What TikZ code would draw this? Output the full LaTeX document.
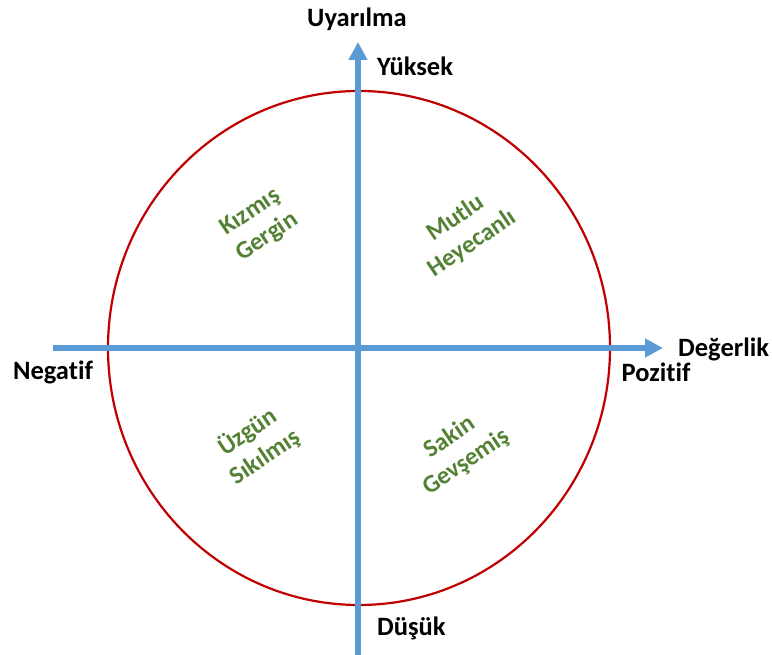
\documentclass[tikz,border=0pt]{standalone}
\usepackage{fontspec}
\setmainfont[Ligatures=NoCommon]{Carlito}
\usetikzlibrary{arrows.meta,positioning}
\definecolor{axiscolor}{HTML}{5B9BD5}
\definecolor{ringcolor}{HTML}{C00000}
\definecolor{moodcolor}{HTML}{548235}

\begin{document}
\begin{tikzpicture}[x=1pt, y=1pt,
    every node/.style={font=\fontsize{26.5}{30}\selectfont\bfseries, inner sep=0pt},
    axis/.style={line width=6pt, color=axiscolor, -{Triangle[length=18pt,width=18pt]}},
    mood/.style={color=moodcolor, align=center, rotate=34,
                 font=\fontsize{25}{30}\selectfont\bfseries}]
    \useasboundingbox (0,0) rectangle (772,655);

    % Axis ends
    \coordinate (ybot) at (358,0);
    \coordinate (ytop) at (358,613);
    \coordinate (xleft) at (53,307);
    \coordinate (xright) at (663,307);
    \coordinate (origin) at (359,307);

    % Ring
    \draw[ringcolor, line width=2.2pt] (origin) ellipse [x radius=251, y radius=257];

    % Axes
    \draw[axis] (ybot) -- (ytop);
    \draw[axis] (xleft) -- (xright);

    % Axis labels
    \node[anchor=base] (arousal) at (357,628) {Uyarılma};
    \node[anchor=base west] (high) at (377,579) {Yüksek};
    \node[anchor=base west] (low) at (377,19) {Düşük};
    \node[anchor=base] (neg) at (53,275) {Negatif};
    \node[anchor=base] (pos) at (656,273) {Pozitif};
    \node[anchor=base west] (valence) at (678,298) {Değerlik};

    % Quadrant moods
    \foreach \name/\pos/\txt in {angry/{259,430}/{Kızmış\\Gergin},
                                 happy/{464,424}/{Mutlu\\Heyecanlı},
                                 sad/{256,211}/{Üzgün\\Sıkılmış},
                                 calm/{458,205}/{Sakin\\Gevşemiş}} {
        \node[mood] (\name) at (\pos) {\txt};
    }
\end{tikzpicture}
\end{document}
